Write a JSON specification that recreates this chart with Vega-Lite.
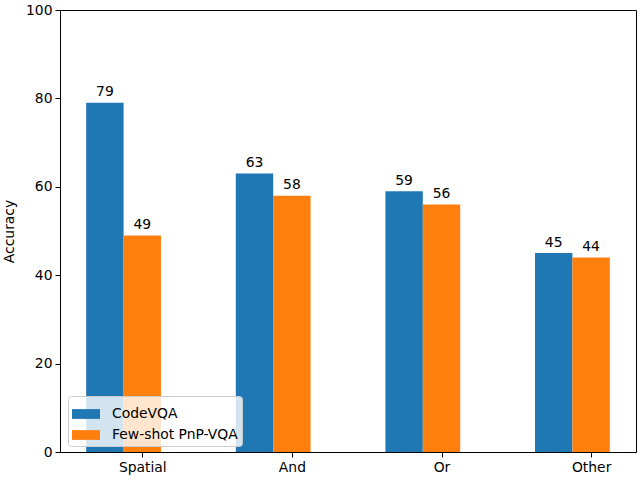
{
  "$schema": "https://vega.github.io/schema/vega-lite/v6.json",
  "width": 576,
  "height": 442,
  "autosize": {"type": "none"},
  "padding": {"left": 60, "top": 10, "right": 4, "bottom": 28},
  "background": "white",
  "config": {
    "font": "DejaVu Sans",
    "view": {"stroke": "black", "strokeWidth": 1},
    "axis": {
      "labelFont": "DejaVu Sans",
      "labelFontSize": 13.9,
      "labelColor": "black",
      "titleFont": "DejaVu Sans",
      "titleFontSize": 13.9,
      "titleFontWeight": "normal",
      "titleColor": "black",
      "domainColor": "black",
      "tickColor": "black",
      "tickSize": 5,
      "grid": false
    }
  },
  "data": {
    "values": [
      {"category": "Spatial", "method": "CodeVQA", "accuracy": 79},
      {"category": "Spatial", "method": "Few-shot PnP-VQA", "accuracy": 49},
      {"category": "And", "method": "CodeVQA", "accuracy": 63},
      {"category": "And", "method": "Few-shot PnP-VQA", "accuracy": 58},
      {"category": "Or", "method": "CodeVQA", "accuracy": 59},
      {"category": "Or", "method": "Few-shot PnP-VQA", "accuracy": 56},
      {"category": "Other", "method": "CodeVQA", "accuracy": 45},
      {"category": "Other", "method": "Few-shot PnP-VQA", "accuracy": 44}
    ]
  },
  "encoding": {
    "x": {
      "field": "category",
      "type": "nominal",
      "sort": ["Spatial", "And", "Or", "Other"],
      "scale": {"paddingInner": 0.5, "paddingOuter": 0.175},
      "axis": {"title": null, "labelAngle": 0, "tickOffset": 18.7, "labelPadding": 3}
    },
    "xOffset": {
      "field": "method",
      "type": "nominal",
      "sort": ["CodeVQA", "Few-shot PnP-VQA"],
      "scale": {"paddingInner": 0, "paddingOuter": 0}
    },
    "y": {
      "field": "accuracy",
      "type": "quantitative",
      "scale": {"domain": [0, 100], "nice": false},
      "axis": {"title": "Accuracy", "values": [0, 20, 40, 60, 80, 100], "labelPadding": 3, "titlePadding": 9}
    }
  },
  "layer": [
    {
      "mark": {"type": "bar"},
      "encoding": {
        "color": {
          "field": "method",
          "type": "nominal",
          "sort": ["CodeVQA", "Few-shot PnP-VQA"],
          "scale": {"range": ["#1f77b4", "#ff7f0e"]},
          "legend": {
            "title": null,
            "orient": "none",
            "legendX": 8,
            "legendY": 386,
            "padding": 4,
            "fillColor": "rgba(255,255,255,0.8)",
            "strokeColor": "#cccccc",
            "cornerRadius": 3,
            "symbolType": "M-1,-0.35H1V0.35H-1Z",
            "symbolSize": 784,
            "symbolStrokeWidth": 0,
            "symbolOpacity": 1,
            "labelFont": "DejaVu Sans",
            "labelFontSize": 13.9,
            "labelColor": "black",
            "labelOffset": 12,
            "rowPadding": 0
          }
        }
      }
    },
    {
      "mark": {"type": "text", "baseline": "alphabetic", "dy": -6.5, "fontSize": 13.9, "color": "black"},
      "encoding": {
        "text": {"field": "accuracy", "type": "quantitative"}
      }
    }
  ]
}
